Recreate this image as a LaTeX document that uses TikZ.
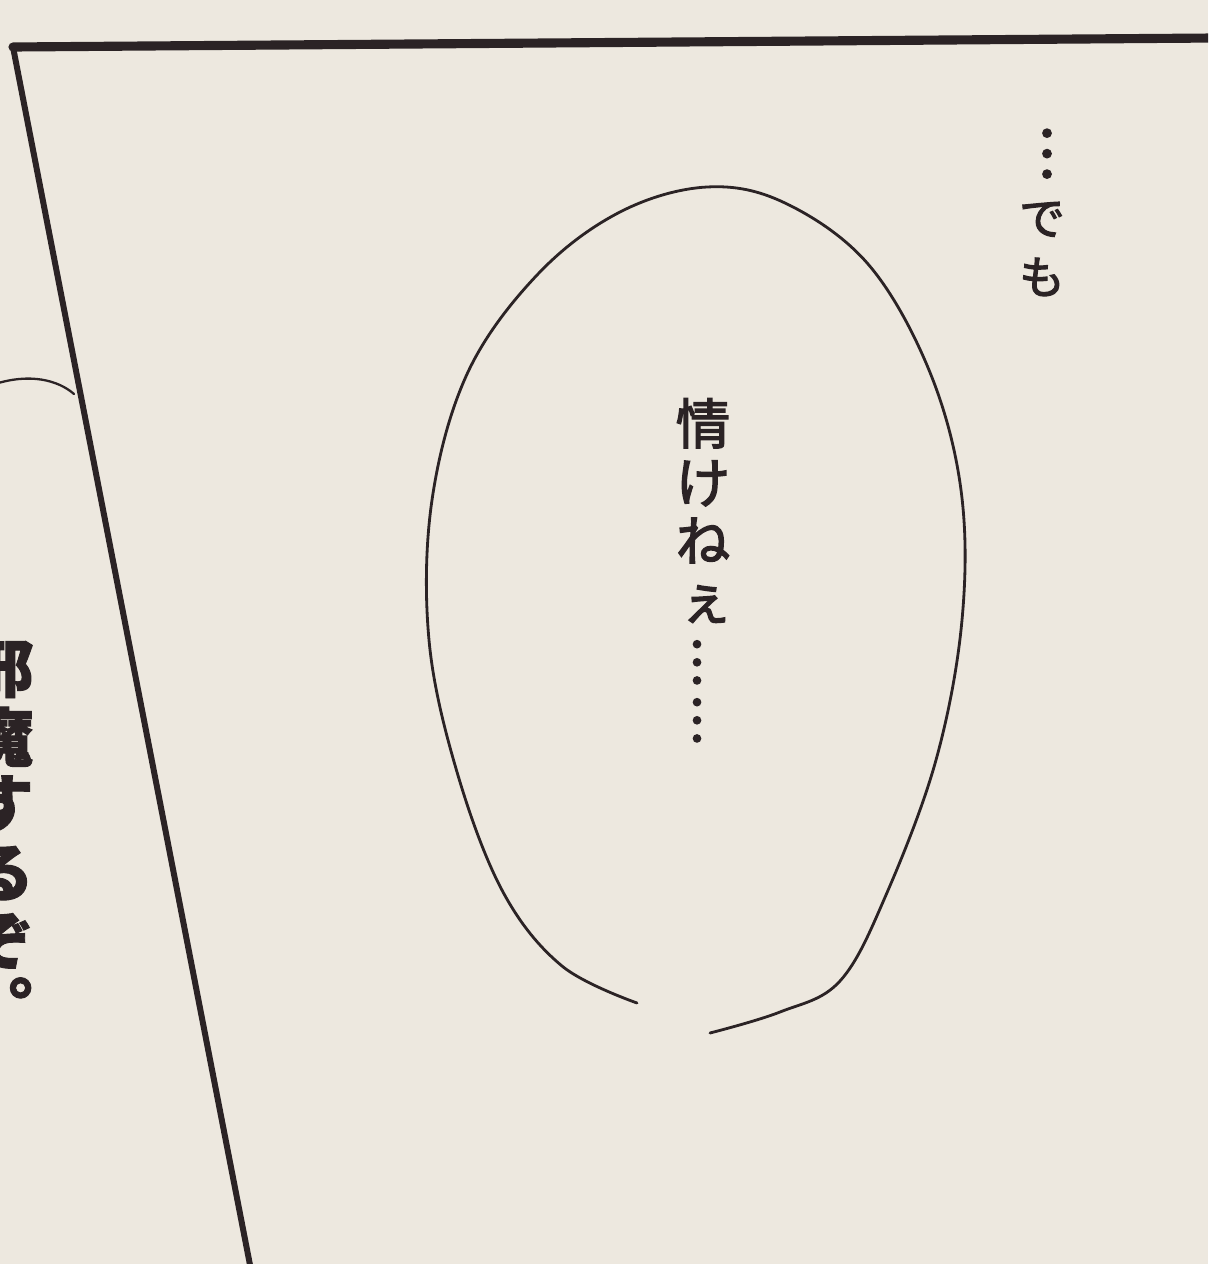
\documentclass[tikz,border=0pt]{standalone}
\usepackage{fontspec}
\newfontfamily\cjk[FakeBold=2.5]{Noto Sans CJK JP}
\newfontfamily\cjkheavy[FakeBold=1.5]{Noto Sans CJK JP}
\definecolor{paper}{RGB}{237,232,223}
\definecolor{ink}{RGB}{43,35,37}
\tikzset{
  glyph/.style={inner sep=0pt, anchor=base, text=ink},
  mid/.style={glyph, font=\cjk\fontsize{31}{31}\selectfont},
  midtri/.style={glyph, font=\cjk\fontsize{31}{31}\selectfont},
  top/.style={glyph, font=\cjk\fontsize{26}{26}\selectfont},
  toptri/.style={glyph, font=\cjk\fontsize{35}{35}\selectfont},
  lefttxt/.style={glyph, font=\cjkheavy\bfseries\fontsize{36}{36}\selectfont},
  frameline/.style={draw=ink, line cap=round},
  balloon/.style={draw=ink, line width=1.6pt, line cap=round}
}
\begin{document}
\begin{tikzpicture}[x=0.02cm, y=-0.02cm]
\fill[paper] (0,0) rectangle (1208,1264);
\useasboundingbox (0,0) rectangle (1208,1264);
\clip (0,0) rectangle (1208,1264);
% panel frame
\coordinate (tl) at (13,47);
\coordinate (tr) at (1215,38);
\coordinate (bl) at (251,1270);
\draw[frameline, line width=5.2pt] (tl) -- (tr);
\draw[frameline, line width=3.4pt] (tl) -- (bl);
% neighbouring balloon edge at left
\coordinate (na) at (-5,384);
\coordinate (nb) at (74,394);
\draw[balloon, line width=1.3pt] (na) .. controls (30,373) and (58,380) .. (nb);
% speech balloon (open at bottom)
\draw[balloon] plot[smooth, tension=0.6] coordinates {
 (637,1003) (562,966) (503,892) (457,772) (429,640) (432,500)
 (468,372) (538,274) (620,212) (707,187) (785,203) (868,264)
 (929,370) (961,490) (962,620) (936,760) (886,895) (840,981)
 (780,1012) (710,1033)};
% centre text
\node[mid] (m1) at (703,444) {情};
\node[mid] (m2) at (703,503) {け};
\node[mid] (m3) at (703,561) {ね};
\node[mid] (m4) at (706,620) {ぇ};
\node[midtri] (m5) at (697,683) {︙};
\node[midtri] (m6) at (697,741) {︙};
% top right text
\node[toptri] (t1) at (1047,177) {︙};
\node[top] (t2) at (1042,235) {で};
\node[top] (t3) at (1042,294) {も};
% left text (cut by the page edge, as in the original)
\node[lefttxt] (l1) at (2,692) {邪};
\node[lefttxt] (l2) at (2,761) {魔};
\node[lefttxt] (l3) at (2,827) {す};
\node[lefttxt] (l4) at (2,896) {る};
\node[lefttxt] (l5) at (2,964) {ぞ};
\node[lefttxt] (l6) at (2,1030) {︒};
\end{tikzpicture}
\end{document}
